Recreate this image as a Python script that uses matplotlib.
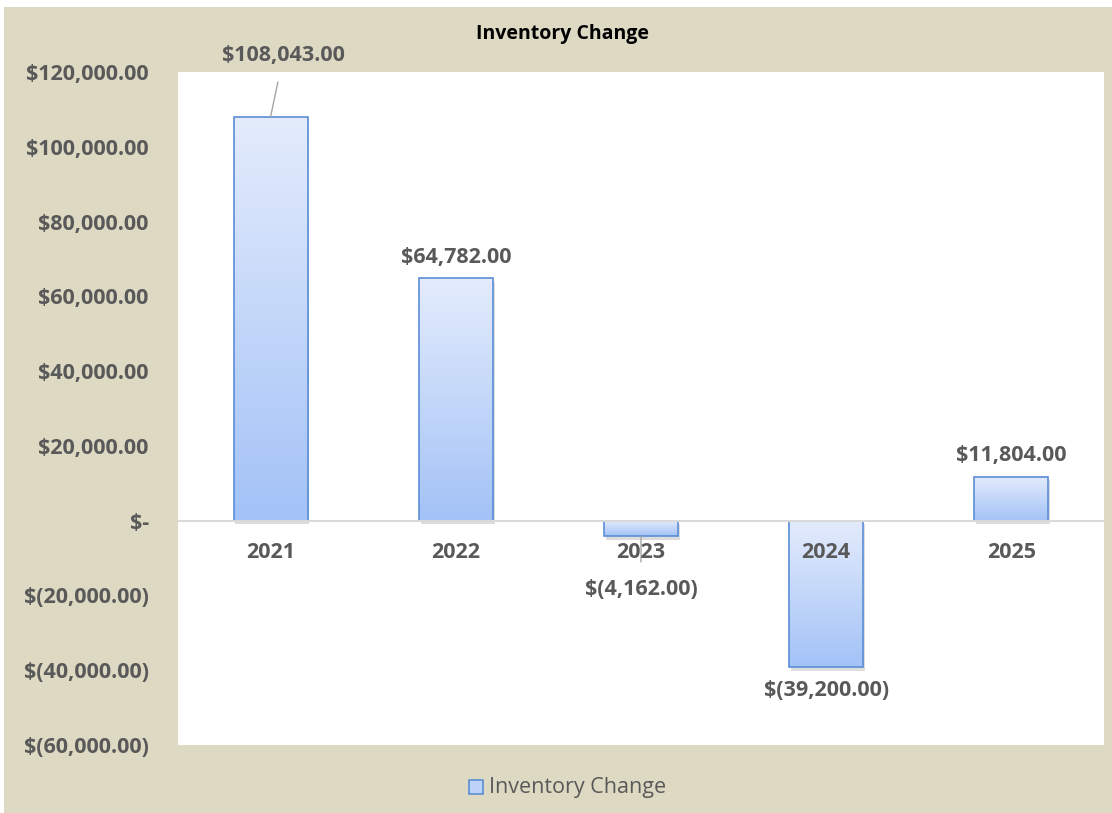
import matplotlib.pyplot as plt
import numpy as np
from matplotlib.patches import Rectangle
from matplotlib.ticker import FuncFormatter

years = ['2021', '2022', '2023', '2024', '2025']
values = [108043, 64782, -4162, -39200, 11804]
y_ticks = [-60000, -40000, -20000, 0, 20000, 40000, 60000, 80000, 100000, 120000]

BEIGE = '#DDD9C3'
GRAY = '#595959'
EDGE = '#5B8ED6'
FS = 15.5

plt.rcParams['font.family'] = ['Open Sans', 'DejaVu Sans']


def money(v, pos=None):
    if v == 0:
        return '$-'
    if v < 0:
        return '$({:,.2f})'.format(-v)
    return '${:,.2f}'.format(v)


fig = plt.figure(figsize=(11.12, 8.13), dpi=100, facecolor='white')
fig.patches.append(Rectangle((4 / 1112, 0), 1 - 4 / 1112, 1 - 7 / 813,
                             transform=fig.transFigure, facecolor=BEIGE,
                             edgecolor='none', zorder=-10))
ax = fig.add_axes([178 / 1112, 1 - 745 / 813, 926 / 1112, 673 / 813])
ax.set_facecolor('white')

# spine first: moving it resets the tick objects
for s in ['top', 'right', 'left']:
    ax.spines[s].set_visible(False)
ax.spines['bottom'].set_position(('data', 0))
ax.spines['bottom'].set_color('#D9D9D9')
ax.spines['bottom'].set_linewidth(1.5)
ax.spines['bottom'].set_zorder(5)

x = np.arange(len(years))
width = 0.4
grad = np.linspace(0, 1, 256).reshape(-1, 1)
cmap = plt.matplotlib.colors.LinearSegmentedColormap.from_list('bar', ['#E4ECFC', '#A3C2F7'])

for xi, v in zip(x, values):
    lo, hi = min(0, v), max(0, v)
    # soft shadow
    ax.add_patch(Rectangle((xi - width / 2 + 0.01, lo - 900), width, hi - lo,
                           facecolor='#00000022', edgecolor='none', zorder=2))
    rect = Rectangle((xi - width / 2, lo), width, hi - lo, facecolor='none',
                     edgecolor=EDGE, linewidth=1.2, zorder=4)
    ax.add_patch(rect)
    im = ax.imshow(grad, cmap=cmap, aspect='auto', zorder=3,
                   extent=(xi - width / 2, xi + width / 2, lo, hi), origin='upper')
    im.set_clip_path(rect)

ax.set_xlim(-0.5, len(years) - 0.5)
ax.set_ylim(-60000, 120000)
ax.set_yticks(y_ticks)
ax.yaxis.set_major_formatter(FuncFormatter(money))
ax.tick_params(axis='y', length=0, pad=21, labelsize=FS, labelcolor=GRAY)

ax.set_xticks(x)
ax.set_xticklabels(years)
ax.tick_params(axis='x', length=0, pad=15, labelsize=FS, labelcolor=GRAY)
for lbl in ax.get_yticklabels() + ax.get_xticklabels():
    lbl.set_fontweight('bold')
ax.xaxis.set_zorder(6)

# data labels
label_kw = dict(ha='center', va='center', fontsize=FS, fontweight='bold', color=GRAY,
                annotation_clip=False, zorder=6)
ax.annotate(money(values[0]), xy=(x[0], values[0]), xytext=(x[0] + 0.07, 124500),
            arrowprops=dict(arrowstyle='-', color='#A6A6A6', lw=1, shrinkA=10, shrinkB=0),
            **label_kw)
ax.annotate(money(values[1]), xy=(x[1], values[1]), xytext=(0, 15),
            textcoords='offset points', **label_kw)
ax.annotate(money(values[2]), xy=(x[2], values[2]), xytext=(x[2], -18300),
            arrowprops=dict(arrowstyle='-', color='#A6A6A6', lw=1, shrinkA=10, shrinkB=0),
            **label_kw)
ax.annotate(money(values[3]), xy=(x[3], values[3]), xytext=(0, -17),
            textcoords='offset points', **label_kw)
ax.annotate(money(values[4]), xy=(x[4], values[4]), xytext=(0, 15),
            textcoords='offset points', **label_kw)

fig.text(563 / 1112, 1 - 34 / 813, 'Inventory Change', ha='center', va='center',
         fontsize=14, fontweight='bold', color='black')

# legend
lx, ly = 469 / 1112, 1 - 787 / 813
fig.patches.append(Rectangle((lx, ly - 7 / 813), 14 / 1112, 14 / 813, transform=fig.transFigure,
                             facecolor='#BCD2F8', edgecolor=EDGE, linewidth=1.2))
fig.text(lx + 20 / 1112, ly, 'Inventory Change', ha='left', va='center', fontsize=15.5,
         color=GRAY)

fig.savefig('out.png', dpi=100, facecolor=fig.get_facecolor())
